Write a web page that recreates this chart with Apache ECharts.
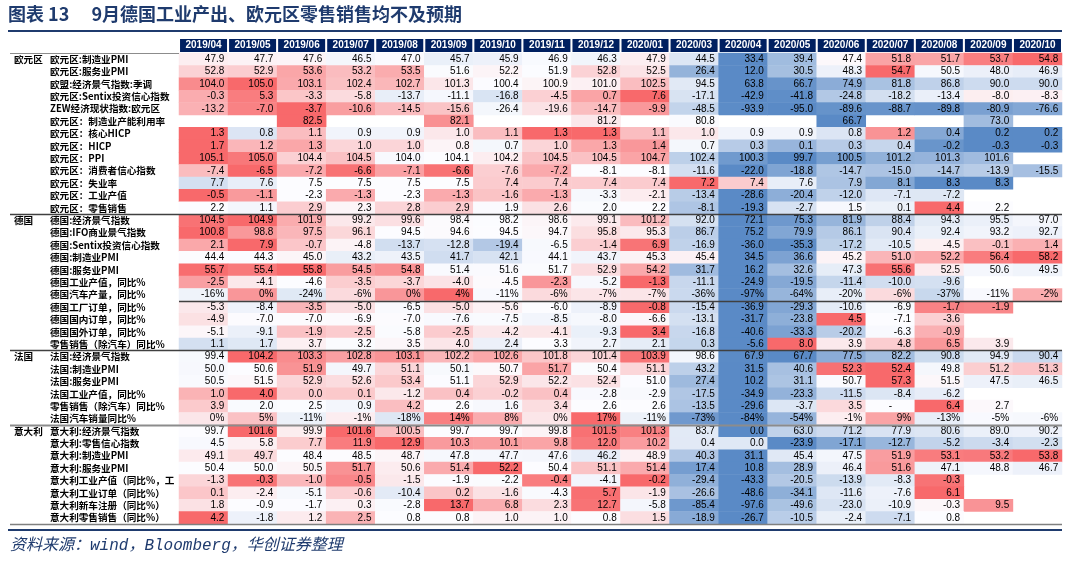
<!DOCTYPE html>
<html><head><meta charset="utf-8">
<script src="https://cdn.jsdelivr.net/npm/echarts@6/dist/echarts.min.js"></script>
<style>html,body{margin:0;padding:0;background:#fff}#c{width:1070px;height:562px}</style>
</head><body><div id="c"></div>
<script>
// ---------- DATA ----------
const months = ['2019/04','2019/05','2019/06','2019/07','2019/08','2019/09','2019/10','2019/11','2019/12','2020/01','2020/03','2020/04','2020/05','2020/06','2020/07','2020/08','2020/09','2020/10'];

const groupNames = ['欧元区','德国','法国','意大利'];

const euroLabels = ['欧元区:制造业PMI','欧元区:服务业PMI','欧盟:经济景气指数:季调','欧元区:Sentix投资信心指数','ZEW经济现状指数:欧元区','欧元区：制造业产能利用率','欧元区：核心HICP','欧元区：HICP','欧元区：PPI','欧元区：消费者信心指数','欧元区：失业率','欧元区：工业产值','欧元区：零售销售'];
const euroValues = [
  [47.9,47.7,47.6,46.5,47.0,45.7,45.9,46.9,46.3,47.9,44.5,33.4,39.4,47.4,51.8,51.7,53.7,54.8],
  [52.8,52.9,53.6,53.2,53.5,51.6,52.2,51.9,52.8,52.5,26.4,12.0,30.5,48.3,54.7,50.5,48.0,46.9],
  [104.0,105.0,103.1,102.4,102.7,101.3,100.4,100.9,101.0,102.5,94.5,63.8,66.7,74.9,81.8,86.8,90.0,90.0],
  [-0.3,5.3,-3.3,-5.8,-13.7,-11.1,-16.8,-4.5,0.7,7.6,-17.1,-42.9,-41.8,-24.8,-18.2,-13.4,-8.0,-8.3],
  [-13.2,-7.0,-3.7,-10.6,-14.5,-15.6,-26.4,-19.6,-14.7,-9.9,-48.5,-93.9,-95.0,-89.6,-88.7,-89.8,-80.9,-76.6],
  [null,null,82.5,null,null,82.1,null,null,81.2,null,80.8,null,null,66.7,null,null,73.0,null],
  [1.3,0.8,1.1,0.9,0.9,1.0,1.1,1.3,1.3,1.1,1.0,0.9,0.9,0.8,1.2,0.4,0.2,0.2],
  [1.7,1.2,1.3,1.0,1.0,0.8,0.7,1.0,1.3,1.4,0.7,0.3,0.1,0.3,0.4,-0.2,-0.3,-0.3],
  [105.1,105.0,104.4,104.5,104.0,104.1,104.2,104.5,104.5,104.7,102.4,100.3,99.7,100.5,101.2,101.3,101.6,null],
  [-7.4,-6.5,-7.2,-6.6,-7.1,-6.6,-7.6,-7.2,-8.1,-8.1,-11.6,-22.0,-18.8,-14.7,-15.0,-14.7,-13.9,-15.5],
  [7.7,7.6,7.5,7.5,7.5,7.5,7.4,7.4,7.4,7.4,7.2,7.4,7.6,7.9,8.1,8.3,8.3,null],
  [-0.5,-1.1,-2.3,-1.3,-2.3,-1.3,-1.6,-1.3,-3.3,-2.1,-13.4,-28.6,-20.4,-12.0,-7.1,-7.2,null,null],
  [2.2,1.1,2.9,2.3,2.8,2.9,1.9,2.6,2.0,2.2,-8.1,-19.3,-2.7,1.5,0.1,4.4,2.2,null]
];

const germanyLabels = ['德国:经济景气指数','德国:IFO商业景气指数','德国:Sentix投资信心指数','德国:制造业PMI','德国:服务业PMI','德国工业产值，同比%','德国汽车产量，同比%','德国工厂订单，同比%','德国国内订单，同比%','德国国外订单，同比%','零售销售（除汽车）同比%'];
const germanyValues = [
  [104.5,104.9,101.9,99.2,99.6,98.4,98.2,98.6,99.1,101.2,92.0,72.1,75.3,81.9,88.4,94.3,95.5,97.0],
  [100.8,98.8,97.5,96.1,94.5,94.6,94.5,94.7,95.8,95.3,86.7,75.2,79.9,86.1,90.4,92.4,93.2,92.7],
  [2.1,7.9,-0.7,-4.8,-13.7,-12.8,-19.4,-6.5,-1.4,6.9,-16.9,-36.0,-35.3,-17.2,-10.5,-4.5,-0.1,1.4],
  [44.4,44.3,45.0,43.2,43.5,41.7,42.1,44.1,43.7,45.3,45.4,34.5,36.6,45.2,51.0,52.2,56.4,58.2],
  [55.7,55.4,55.8,54.5,54.8,51.4,51.6,51.7,52.9,54.2,31.7,16.2,32.6,47.3,55.6,52.5,50.6,49.5],
  [-2.5,-4.1,-4.6,-3.5,-3.7,-4.0,-4.5,-2.3,-5.2,-1.3,-11.1,-24.9,-19.5,-11.4,-10.0,-9.6,null,null],
  [-16,0,-24,-6,0,4,-11,-6,-7,-7,-36,-97,-64,-20,-6,-37,-11,-2],
  [-5.3,-8.4,-3.5,-5.0,-6.5,-5.0,-5.6,-6.0,-8.9,-0.8,-15.4,-36.9,-29.3,-10.6,-6.9,-1.7,-1.9,null],
  [-4.9,-7.0,-7.0,-6.9,-7.0,-7.6,-7.5,-8.5,-8.0,-6.6,-13.1,-31.7,-23.8,4.5,-7.1,-3.6,null,null],
  [-5.1,-9.1,-1.9,-2.5,-5.8,-2.5,-4.2,-4.1,-9.3,3.4,-16.8,-40.6,-33.3,-20.2,-6.3,-0.9,null,null],
  [1.1,1.7,3.7,3.2,3.5,4.0,2.4,3.3,2.7,2.1,0.3,-5.6,8.0,3.9,4.8,6.5,3.9,null]
];

const franceLabels = ['法国:经济景气指数','法国:制造业PMI','法国:服务业PMI','法国工业产值，同比%','零售销售（除汽车）同比%','法国汽车销量同比%'];
const franceValues = [
  [99.4,104.2,103.3,102.8,103.1,102.2,102.6,101.8,101.4,103.9,98.6,67.9,67.7,77.5,82.2,90.8,94.9,90.4],
  [50.0,50.6,51.9,49.7,51.1,50.1,50.7,51.7,50.4,51.1,43.2,31.5,40.6,52.3,52.4,49.8,51.2,51.3],
  [50.5,51.5,52.9,52.6,53.4,51.1,52.9,52.2,52.4,51.0,27.4,10.2,31.1,50.7,57.3,51.5,47.5,46.5],
  [1.0,4.0,0.0,0.1,-1.2,0.4,-0.2,0.4,-2.8,-2.9,-17.5,-34.9,-23.3,-11.5,-8.4,-6.2,null,null],
  [3.9,2.0,2.5,0.9,4.2,2.6,1.6,3.4,2.6,2.6,-13.5,-29.6,-3.7,3.5,'-',6.4,2.7,null],
  [0,5,-11,-1,-18,14,8,0,17,-11,-73,-84,-54,-1,9,-13,-5,-6]
];

const italyLabels = ['意大利:经济景气指数','意大利:零售信心指数','意大利:制造业PMI','意大利:服务业PMI','意大利工业产值（同比%，工作日调整）','意大利工业订单（同比%）','意大利新车注册（同比%）','意大利零售销售（同比%）'];
const italyValues = [
  [99.7,101.6,99.9,101.6,100.5,99.7,99.7,99.8,101.5,101.3,83.7,0.0,63.0,71.2,77.9,80.6,89.0,90.2],
  [4.5,5.8,7.7,11.9,12.9,10.3,10.1,9.8,12.0,10.2,0.4,0.0,-23.9,-17.1,-12.7,-5.2,-3.4,-2.3],
  [49.1,49.7,48.4,48.5,48.7,47.8,47.7,47.6,46.2,48.9,40.3,31.1,45.4,47.5,51.9,53.1,53.2,53.8],
  [50.4,50.0,50.5,51.7,50.6,51.4,52.2,50.4,51.1,51.4,17.4,10.8,28.9,46.4,51.6,47.1,48.8,46.7],
  [-1.3,-0.3,-1.0,-0.5,-1.5,-1.9,-2.2,-0.4,-4.1,-0.2,-29.4,-43.3,-20.5,-13.9,-8.3,-0.3,null,null],
  [0.1,-2.4,-5.1,-0.6,-10.4,0.2,-1.6,-4.3,5.7,-1.9,-26.6,-48.6,-34.1,-11.6,-7.6,6.1,null,null],
  [1.8,-0.9,-1.7,0.3,-2.8,13.7,6.8,2.3,12.7,-5.8,-85.4,-97.6,-49.6,-23.0,-10.9,-0.3,9.5,null],
  [4.2,-1.8,1.2,2.5,0.8,0.8,1.0,1.0,0.8,1.5,-18.9,-26.7,-10.5,-2.4,-7.1,0.8,null,null]
];

const percentRows = ['德国汽车产量，同比%','法国汽车销量同比%'];
const reversedRows = ['欧元区：失业率'];

const titleText = '图表 13\u3000 9月德国工业产出、欧元区零售销售均不及预期';
const sourceText = '资料来源：wind，Bloomberg，华创证券整理';

// ---------- BUILD ----------
const groups = [[euroLabels, euroValues],[germanyLabels, germanyValues],[franceLabels, franceValues],[italyLabels, italyValues]];
const rowLabels = [], rowValues = [], groupStart = {};
groups.forEach((g, gi) => {
  groupStart[rowLabels.length] = groupNames[gi];
  g[0].forEach((l, i) => { rowLabels.push(l); rowValues.push(g[1][i]); });
});

function median(arr) {
  const s = arr.slice().sort((a,b)=>a-b); const n = s.length;
  return n % 2 ? s[(n-1)/2] : (s[n/2-1] + s[n/2]) / 2;
}

const cells = [];
rowValues.forEach((vals, r) => {
  const nums = vals.filter(v => typeof v === 'number');
  const mn = Math.min(...nums), mx = Math.max(...nums), md = median(nums);
  const pct = percentRows.includes(rowLabels[r]);
  const rev = reversedRows.includes(rowLabels[r]);
  vals.forEach((v, c) => {
    if (v === null) return;
    if (typeof v !== 'number') {
      cells.push({ value: [c, r, 0], txt: String(v), label: { position: 'inside' } });
      return;
    }
    let t = v >= md ? (mx > md ? (v - md) / (mx - md) : 0) : -(md - v) / (md - mn);
    if (rev) t = -t;
    cells.push({ value: [c, r, t], txt: pct ? v.toFixed(0) + '%' : v.toFixed(1) });
  });
});

const chart = echarts.init(document.getElementById('c'), null, { renderer: 'canvas' });
const navy = '#1F3B6E';
const FONT = '"Liberation Sans", "Noto Sans CJK SC", sans-serif';

chart.setOption({
  animation: false,
  backgroundColor: '#fff',
  textStyle: { fontFamily: FONT },
  grid: { left: 179, right: 8, top: 53, bottom: 38 },
  xAxis: {
    type: 'category', position: 'top', data: months,
    axisLine: { show: false }, axisTick: { show: false }, splitLine: { show: false },
    axisLabel: {
      interval: 0, margin: 1, color: '#fff', fontWeight: 'bold', fontSize: 10, fontFamily: FONT,
      backgroundColor: '#002060', width: 47, height: 13, lineHeight: 13, align: 'center', verticalAlign: 'bottom'
    }
  },
  yAxis: [{
    type: 'category', data: rowLabels, inverse: true,
    axisLine: { show: false }, axisTick: { show: false }, splitLine: { show: false },
    axisLabel: {
      interval: 0, align: 'left', margin: 129, width: 128, overflow: 'truncate', ellipsis: '',
      fontWeight: 'bold', fontSize: 9.6, color: '#000', fontFamily: '"Noto Sans CJK SC", sans-serif'
    }
  }, {
    type: 'category', data: rowLabels, inverse: true, position: 'left',
    axisLine: { show: false }, axisTick: { show: false }, splitLine: { show: false },
    axisLabel: {
      interval: 0, align: 'left', margin: 165,
      formatter: (v, i) => groupStart[i] || '',
      fontWeight: 'bold', fontSize: 9.6, color: '#000', fontFamily: '"Noto Sans CJK SC", sans-serif'
    }
  }],
  visualMap: {
    show: false, type: 'continuous', dimension: 2, min: -1, max: 1, seriesIndex: 0,
    inRange: { color: ['#5A8AC6', '#FCFCFF', '#F8696B'] }
  },
  series: [{
    type: 'heatmap', data: cells, xAxisIndex: 0, yAxisIndex: 0,
    itemStyle: { borderWidth: 0 },
    emphasis: { disabled: true },
    label: {
      show: true, position: 'insideRight', distance: 4, fontSize: 10, color: '#000', fontFamily: FONT,
      formatter: p => p.data.txt
    }
  }],
  graphic: [
    { type: 'text', left: 8, top: 5, style: { text: titleText, fill: navy, font: 'bold 18px "Noto Sans CJK SC", sans-serif' } },
    { type: 'line', shape: { x1: 8, y1: 31, x2: 1062, y2: 31 }, style: { stroke: navy, lineWidth: 2 } },
    { type: 'line', shape: { x1: 8, y1: 530, x2: 1062, y2: 530 }, style: { stroke: navy, lineWidth: 2 } },
    { type: 'text', left: 10, top: 538, style: { text: sourceText, fill: navy, font: 'italic 16px "Liberation Mono", "Noto Sans CJK SC", monospace' } }
  ]
});

// separator lines placed through the axes' own scales
const yc0 = chart.convertToPixel({ yAxisIndex: 0 }, 0);
const yc1 = chart.convertToPixel({ yAxisIndex: 0 }, 1);
const band = yc1 - yc0;
const edge = i => Math.round(yc0 - band / 2 + i * band) + 0.5;
const xc0 = chart.convertToPixel({ xAxisIndex: 0 }, 0);
const xc1 = chart.convertToPixel({ xAxisIndex: 0 }, 1);
const bx = xc1 - xc0;
const gLeft = xc0 - bx / 2, gRight = xc0 - bx / 2 + bx * months.length;
const starts = Object.keys(groupStart).map(Number);
const seps = [
  { y: edge(0), x1: 10, x2: gLeft, c: '#8c8c8c', w: 1 },
  { y: edge(starts[1]), x1: 10, x2: gRight, c: '#404040', w: 1.5 },
  { y: edge(starts[1] + 7), x1: gLeft, x2: gRight, c: '#404040', w: 1.5 },
  { y: edge(starts[2]), x1: 10, x2: gRight, c: '#404040', w: 1.5 },
  { y: edge(starts[3]), x1: 10, x2: gRight, c: '#8c8c8c', w: 2 },
  { y: edge(rowLabels.length), x1: 10, x2: gRight, c: '#7f7f7f', w: 1.5 }
];
const opt = chart.getOption();
const gr = opt.graphic[0].elements.slice();
seps.forEach(s => gr.push({ type: 'line', z: 100, shape: { x1: s.x1, y1: s.y, x2: s.x2, y2: s.y }, style: { stroke: s.c, lineWidth: s.w } }));
chart.setOption({ graphic: gr }, { replaceMerge: ['graphic'] });
</script>
</body></html>
